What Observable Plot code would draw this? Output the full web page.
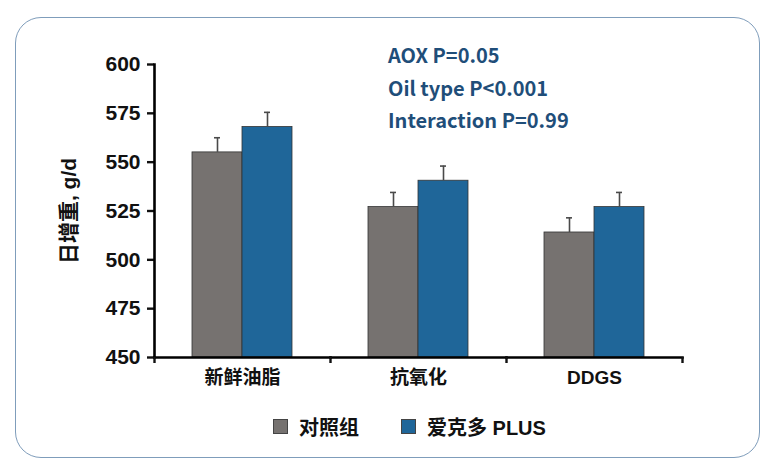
<!DOCTYPE html>
<html>
<head>
<meta charset="utf-8">
<script src="https://cdn.jsdelivr.net/npm/d3@7"></script>
<script src="https://cdn.jsdelivr.net/npm/@observablehq/plot@0.6"></script>
<style>
  html, body { margin: 0; padding: 0; background: #fff; }
  #wrap { position: relative; width: 773px; height: 472px; overflow: hidden; font-family: "Liberation Sans", Arial, sans-serif; }
  #frame { position: absolute; left: 15px; top: 17px; width: 745px; height: 441px; border: 1.3px solid #7f9dbb; border-radius: 26px; box-sizing: border-box; }
  #chart { position: absolute; left: 0; top: 0; }
  #chart g[aria-label="y-axis tick label"] text { font-size: 21px !important; }
  #chart g[aria-label="y-axis label"] text { font-size: 21px !important; }
  #chart g[aria-label="fx-axis tick label"] text { font-size: 19px !important; }
  #notes { position: absolute; left: 388px; top: 39px; color: #1f4e79; font-family: "Noto Sans CJK SC", "Noto Sans", sans-serif; font-weight: 700; font-size: 20px; line-height: 32.5px; }
  #legend { position: absolute; left: 273px; top: 412px; display: flex; font-family: "Liberation Sans", "Noto Sans CJK SC", sans-serif; font-weight: 700; font-size: 20px; color: #111; }
  #legend .item { display: flex; align-items: center; gap: 11px; margin-right: 42px; }
  #legend .sw { width: 15px; height: 15px; border: 1px solid #444; box-sizing: border-box; }
</style>
</head>
<body>
<div id="wrap">
  <div id="frame"></div>
  <div id="chart"></div>
  <div id="notes"></div>
  <div id="legend"></div>
</div>
<script>
// ---- data ----
const categories = ["新鲜油脂", "抗氧化", "DDGS"];
const seriesNames = ["对照组", "爱克多 PLUS"];
const seriesColors = ["#767270", "#1f6699"];
const controlValues = [555, 527, 514];
const plusValues = [568, 540.5, 527];
const controlSE = [7.5, 7.5, 7.5];
const plusSE = [7.5, 7.5, 7.5];
const yTicks = [450, 475, 500, 525, 550, 575, 600];
const yLabel = "日增重, g/d";
const notes = ["AOX P=0.05", "Oil type P<0.001", "Interaction P=0.99"];

const rows = [];
categories.forEach((c, i) => {
  rows.push({cat: c, series: seriesNames[0], value: controlValues[i], se: controlSE[i]});
  rows.push({cat: c, series: seriesNames[1], value: plusValues[i], se: plusSE[i]});
});
const yMin = yTicks[0], yMax = yTicks[yTicks.length - 1];

const W = 773, H = 400, mL = 154, mR = 91, mT = 64, mB = 43;
const band = (W - mL - mR) / categories.length;
const font = "'Liberation Sans', 'Noto Sans CJK SC', Arial, sans-serif";

const plot = Plot.plot({
  width: W, height: H,
  marginLeft: mL, marginRight: mR, marginTop: mT, marginBottom: mB,
  style: {fontFamily: font, fontWeight: 700, color: "#111", background: "transparent"},
  fx: {domain: categories, padding: 0, label: null},
  x: {domain: seriesNames, paddingInner: 0, paddingOuter: 0.76, axis: null},
  y: {domain: [yMin, yMax], label: null},
  color: {domain: seriesNames, range: seriesColors},
  marks: [
    Plot.barY(rows, {fx: "cat", x: "series", y1: () => yMin, y2: "value", fill: "series", stroke: "#333", strokeWidth: 0.8}),
    Plot.ruleX(rows, {fx: "cat", x: "series", y1: "value", y2: d => d.value + d.se, stroke: "#4a4a4a", strokeWidth: 1.6}),
    Plot.tickY(rows, {fx: "cat", x: "series", y: d => d.value + d.se, stroke: "#4a4a4a", strokeWidth: 1.6, insetLeft: 22, insetRight: 22}),
    Plot.axisY({ticks: yTicks, tickSize: 7, tickPadding: 7, fontSize: 21, strokeWidth: 2.4, label: yLabel, labelAnchor: "center", labelArrow: "none", labelOffset: 93}),
    Plot.frame({anchor: "left", facetAnchor: "left", strokeWidth: 2.6, stroke: "#000"}),
    Plot.frame({anchor: "bottom", strokeWidth: 2.6, stroke: "#000"}),
    Plot.axisFx({anchor: "bottom", tickSize: 0, tickPadding: 13, fontSize: 19, label: null}),
    Plot.axisFx({anchor: "bottom", tickSize: 6, strokeWidth: 2.4, tickFormat: () => "", dx: -band / 2, label: null}),
    Plot.axisFx({anchor: "bottom", ticks: [categories[categories.length - 1]], tickSize: 6, strokeWidth: 2.4, tickFormat: () => "", dx: band / 2, label: null})
  ]
});
document.getElementById("chart").appendChild(plot);

// notes
const notesEl = document.getElementById("notes");
notes.forEach(t => { const d = document.createElement("div"); d.textContent = t; notesEl.appendChild(d); });

// legend
const leg = document.getElementById("legend");
seriesNames.forEach((s, i) => {
  const it = document.createElement("div"); it.className = "item";
  const sw = document.createElement("div"); sw.className = "sw"; sw.style.background = seriesColors[i];
  const tx = document.createElement("span"); tx.textContent = s;
  it.appendChild(sw); it.appendChild(tx); leg.appendChild(it);
});
</script>
</body>
</html>
